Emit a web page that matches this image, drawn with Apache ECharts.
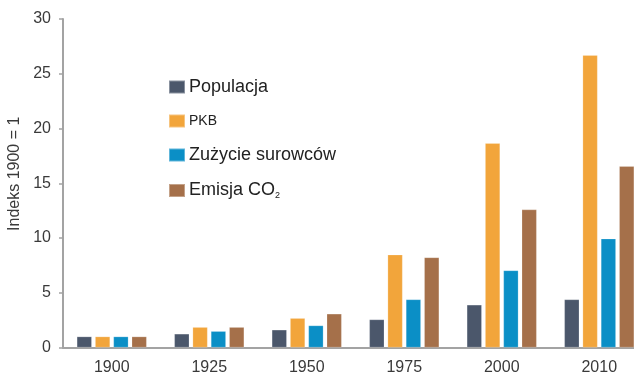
<!DOCTYPE html>
<html>
<head>
<meta charset="utf-8">
<script src="https://cdn.jsdelivr.net/npm/echarts@6/dist/echarts.min.js"></script>
<style>
  html, body { margin: 0; padding: 0; background: #ffffff; }
  #chart { width: 634px; height: 377px; }
</style>
</head>
<body>
<div id="chart"></div>
<script>
// Years on the category axis
const years = ['1900', '1925', '1950', '1975', '2000', '2010'];

// Index values, 1900 = 1
const populacja = [1.0, 1.25, 1.62, 2.56, 3.9, 4.39];
const pkb = [1.0, 1.86, 2.68, 8.48, 18.66, 26.7];
const zuzycie = [1.0, 1.49, 2.01, 4.39, 7.04, 9.94];
const emisjaCO2 = [1.0, 1.86, 3.08, 8.23, 12.6, 16.56];

const seriesNames = ['Populacja', 'PKB', 'Zużycie surowców', 'Emisja CO2'];
const seriesColors = ['#4b576b', '#f2a53b', '#0b8fc6', '#a5704a'];
const yTicks = [0, 5, 10, 15, 20, 25, 30];

const font = "'Liberation Sans', Arial, Helvetica, sans-serif";
const chart = echarts.init(document.getElementById('chart'), null, { renderer: 'canvas' });

function barSeries(name, data, color) {
  return {
    name: name,
    type: 'bar',
    data: data,
    barWidth: 15,
    barGap: '22%',
    itemStyle: { color: color, borderColor: 'rgba(255,255,255,0.35)', borderWidth: 0.6 }
  };
}

chart.setOption({
  animation: false,
  backgroundColor: '#ffffff',
  textStyle: { fontFamily: font },
  // the last category band runs past the right edge of the canvas
  grid: { left: 63, top: 19, right: -14, bottom: 29.5, containLabel: false, outerBoundsMode: 'none' },
  legend: {
    orient: 'vertical',
    left: 168,
    top: 78,
    padding: 0,
    itemWidth: 16,
    itemHeight: 13,
    itemGap: 17.5,
    icon: 'rect',
    data: seriesNames,
    formatter: function (name) {
      if (name === 'PKB') return '{small|PKB}';
      if (name === 'Emisja CO2') return '{big|Emisja CO}{sub|2}';
      return '{big|' + name + '}';
    },
    textStyle: {
      fontFamily: font,
      color: '#222222',
      padding: [0, 0, 0, -1],
      rich: {
        big: { fontSize: 18, fontFamily: font, color: '#222222', lineHeight: 20 },
        small: { fontSize: 14, fontFamily: font, color: '#222222', lineHeight: 20 },
        sub: { fontSize: 9, fontFamily: font, color: '#222222', lineHeight: 20, verticalAlign: 'bottom', padding: [6, 0, 0, 0] }
      }
    }
  },
  xAxis: {
    type: 'category',
    data: years,
    axisTick: { show: false },
    axisLine: { lineStyle: { color: '#a3a3a3', width: 2 } },
    axisLabel: { fontSize: 16, color: '#3a3a3a', fontFamily: font, margin: 12 }
  },
  yAxis: {
    type: 'value',
    min: yTicks[0],
    max: yTicks[yTicks.length - 1],
    interval: 5,
    name: 'Indeks 1900 = 1',
    nameLocation: 'middle',
    nameGap: 38,
    nameTextStyle: { fontSize: 16, color: '#3a3a3a', fontFamily: font, padding: [0, 0, 0, 19] },
    splitLine: { show: false },
    axisLine: { show: true, lineStyle: { color: '#a3a3a3', width: 2 } },
    axisTick: { show: true, length: 4, lineStyle: { color: '#a3a3a3', width: 1.5 } },
    axisLabel: { fontSize: 16, color: '#3a3a3a', fontFamily: font, margin: 12 }
  },
  series: [
    barSeries(seriesNames[0], populacja, seriesColors[0]),
    barSeries(seriesNames[1], pkb, seriesColors[1]),
    barSeries(seriesNames[2], zuzycie, seriesColors[2]),
    barSeries(seriesNames[3], emisjaCO2, seriesColors[3])
  ]
});
</script>
</body>
</html>
